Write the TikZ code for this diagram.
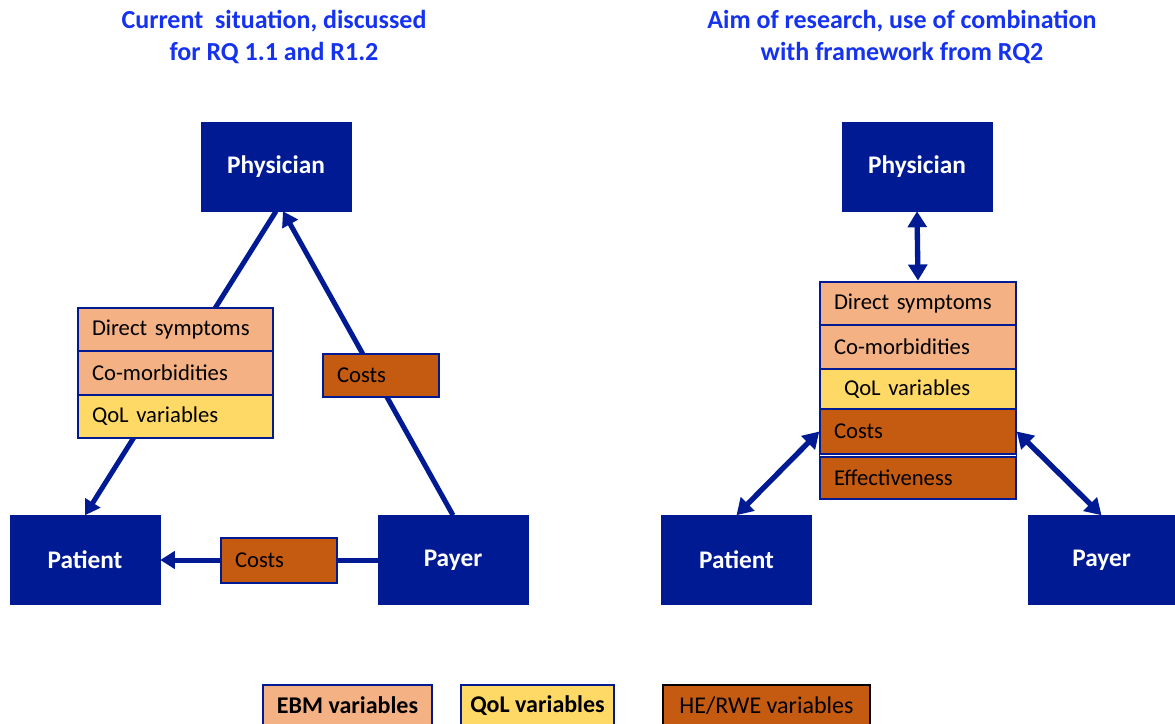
\documentclass[tikz,border=0pt]{standalone}
\usepackage{fontspec}
\setmainfont{Carlito}
\usetikzlibrary{arrows.meta,backgrounds,fit,calc}
\definecolor{navy}{RGB}{0,26,148}
\definecolor{peach}{RGB}{244,177,131}
\definecolor{qolyellow}{RGB}{255,217,102}
\definecolor{hebrown}{RGB}{197,90,17}
\definecolor{titleblue}{RGB}{20,50,240}
\begin{document}
\begin{tikzpicture}[x=0.75pt,y=-0.75pt,
 actor/.style={fill=navy, draw=navy, text=white, font=\fontsize{19}{22}\selectfont\bfseries, minimum width=112.5pt, minimum height=66.75pt, inner sep=0pt},
 row/.style={draw=navy, line width=1.1pt, font=\fontsize{17}{20}\selectfont, inner xsep=10.5pt, inner ysep=0pt, text width=#1, minimum height=32.5pt},
 ebmfill/.style={fill=peach},
 qolfill/.style={fill=qolyellow},
 hefill/.style={fill=hebrown},
 link/.style={draw=navy, line width=3.75pt, -{Triangle[length=11pt,width=13pt]}},
 both/.style={draw=navy, line width=4pt, {Triangle[length=12pt,width=14pt]}-{Triangle[length=12pt,width=14pt]}},
 title/.style={text=titleblue, font=\fontsize{19.5}{24}\selectfont\bfseries, align=center},
 legend/.style={line width=1.1pt, font=\fontsize{18}{21}\selectfont, inner sep=0pt, minimum width=#1, minimum height=30.75pt}
]
\useasboundingbox (0,0) rectangle (1175,724);

% titles
\node[title] (tL) at (274,37) {Current\ \ situation, discussed\\for RQ 1.1 and R1.2};
\node[title] (tR) at (902,37) {Aim of research, use of combination\\with framework from RQ2};

% actors
\node[actor] (phL) at (276,166.5) {Physician};
\node[actor] (paL) at (85,560) {Patient};
\node[actor] (pyL) at (453,560) {Payer};
\node[actor] (phR) at (917,166.5) {Physician};
\node[actor] (paR) at (736.5,560) {Patient};
\node[actor, minimum width=110.25pt] (pyR) at (1101.5,560) {Payer};

% left stack
\node[row=125.25pt, ebmfill] (d1) at (175.5,329.5) {\noindent Direct symptoms};
\node[row=125.25pt, ebmfill] (c1) at (175.5,373) {\noindent Co-morbidities};
\node[row=125.25pt, qolfill] (q1) at (175.5,416.5) {\noindent QoL variables};
\node[row=66pt, hefill] (k1) at (381,375.5) {\noindent Costs};
\node[row=66pt, hefill, minimum height=33.75pt] (k2) at (279,560.5) {\noindent Costs};

% right stack
\node[row=126pt, ebmfill, minimum height=32.25pt] (d2) at (918,303.5) {\noindent Direct symptoms};
\node[row=126pt, ebmfill, minimum height=33pt] (c2) at (918,347) {\noindent Co-morbidities};
\node[row=126pt, qolfill, minimum height=30pt] (q2) at (918,389) {\noindent\hspace*{7.5pt}QoL variables};
\node[row=126pt, hefill, minimum height=33.75pt] (k3) at (918,431.5) {\noindent Costs};
\node[row=126pt, hefill, minimum height=31.5pt] (e2) at (918,478) {\noindent Effectiveness};
\node[fit=(d2)(e2), draw=navy, line width=1.1pt, inner sep=0pt] (stR) {};

% left connectors (behind boxes)
\begin{scope}[on background layer]
\draw[link] (phL.south) -- (paL.north);
\draw[link] (pyL.north) -- ($(phL.south)+(7,0)$);
\draw[link] (pyL.west) -- (paL.east);
\end{scope}

% right connectors
\draw[both] (phR.south) -- (stR.north);
\draw[both] (paR.north) -- (k3.west);
\draw[both] (k3.east) -- (pyR.north);

% legend
\node[legend=126.75pt, fill=peach, draw=navy, font=\fontsize{18}{21}\selectfont\bfseries] (l1) at (347.5,705.5) {EBM variables};
\node[legend=114.75pt, fill=qolyellow, draw=navy, font=\fontsize{18}{21}\selectfont\bfseries] (l2) at (537.5,705.5) {QoL variables};
\node[legend=155.25pt, fill=hebrown, draw=black, line width=1.5pt] (l3) at (766.5,705.5) {HE/RWE variables};
\end{tikzpicture}
\end{document}
